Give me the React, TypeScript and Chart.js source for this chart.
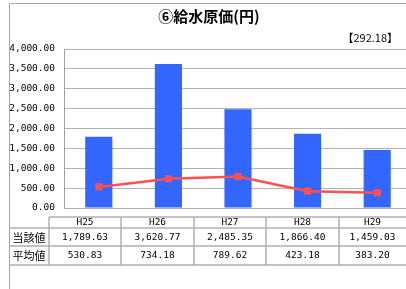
import React, { useEffect, useRef } from "react";
import { Chart, registerables } from "chart.js";

Chart.register(...registerables);

const categories = ["H25", "H26", "H27", "H28", "H29"];
const currentValues = [1789.63, 3620.77, 2485.35, 1866.4, 1459.03];
const averageValues = [530.83, 734.18, 789.62, 423.18, 383.2];
const rowLabels = ["当該値", "平均値"];
const titleText = "⑥給水原価(円)";
const noteText = "【292.18】";

const fmt = (v: number) =>
  v.toLocaleString("en-US", { minimumFractionDigits: 2, maximumFractionDigits: 2 });

const MONO = "'DejaVu Sans Mono', 'Liberation Mono', monospace";
const CJK = "'Noto Sans CJK JP', sans-serif";

const overlayPlugin = {
  id: "overlay",
  afterDraw(chart: any) {
    const ctx = chart.ctx as CanvasRenderingContext2D;
    ctx.save();
    // frame
    ctx.strokeStyle = "#a6a6a6";
    ctx.lineWidth = 1;
    ctx.beginPath();
    ctx.moveTo(9.5, 289);
    ctx.lineTo(9.5, 3.5);
    ctx.lineTo(420, 3.5);
    ctx.stroke();

    // title
    ctx.fillStyle = "#000";
    ctx.font = `bold 15px ${CJK}`;
    ctx.textAlign = "center";
    ctx.textBaseline = "middle";
    ctx.fillText(titleText, 209, 16);

    ctx.font = `11px ${CJK}`;
    ctx.textAlign = "right";
    ctx.fillText(noteText, 398, 38);

    // table
    const colX = [49, 121, 194, 266, 339, 406];
    const rowY = [217, 228, 246, 265];
    ctx.strokeStyle = "#b0b0b0";
    ctx.lineWidth = 1.5;
    ctx.beginPath();
    ctx.moveTo(colX[0], rowY[0]);
    ctx.lineTo(410, rowY[0]);
    for (let r = 1; r < rowY.length; r++) {
      ctx.moveTo(9, rowY[r]);
      ctx.lineTo(410, rowY[r]);
    }
    for (let c = 0; c < colX.length - 1; c++) {
      ctx.moveTo(colX[c], rowY[0]);
      ctx.lineTo(colX[c], rowY[3]);
    }
    ctx.stroke();

    ctx.fillStyle = "#000";
    ctx.textAlign = "center";
    ctx.textBaseline = "middle";
    ctx.font = `9.5px ${MONO}`;
    categories.forEach((c, i) => {
      const cx = (colX[i] + colX[i + 1]) / 2;
      ctx.fillText(c, cx, 222.5);
    });
    const rows = [currentValues, averageValues];
    rows.forEach((vals, r) => {
      const cy = r === 0 ? 237.5 : 256;
      ctx.font = `11px ${CJK}`;
      ctx.fillText(rowLabels[r], 29, cy);
      ctx.font = `9.5px ${MONO}`;
      vals.forEach((v, i) => {
        const cx = (colX[i] + colX[i + 1]) / 2;
        ctx.fillText(fmt(v), cx, cy);
      });
    });
    ctx.restore();
  },
};

export default function App() {
  const ref = useRef<HTMLCanvasElement>(null);
  useEffect(() => {
    document.body.style.margin = "0";
    const chart = new Chart(ref.current!, {
      type: "bar",
      data: {
        labels: categories,
        datasets: [
          {
            type: "line",
            label: "平均値",
            data: averageValues,
            borderColor: "#ff4f4f",
            backgroundColor: "#ff4f4f",
            borderWidth: 2.5,
            pointStyle: "rect",
            pointRadius: 5,
            pointBorderWidth: 0,
            pointBackgroundColor: "#ff4f4f",
            order: 0,
          } as any,
          {
            type: "bar",
            label: "当該値",
            data: currentValues,
            backgroundColor: "#3366ff",
            borderWidth: 0,
            categoryPercentage: 1,
            barPercentage: 0.39,
            order: 1,
          },
        ],
      },
      options: {
        responsive: false,
        animation: false,
        layout: { padding: { top: 49, bottom: 81, left: 0, right: 8 } },
        plugins: { legend: { display: false }, tooltip: { enabled: false }, title: { display: false } },
        scales: {
          x: { display: false },
          y: {
            min: 0,
            max: 4000,
            afterFit: (s: any) => {
              s.width = 64;
            },
            ticks: {
              stepSize: 500,
              padding: 9,
              color: "#000",
              font: { family: MONO, size: 9.5 },
              callback: (v: any) => fmt(Number(v)),
            },
            grid: { color: "#b3b3b3", drawTicks: false, lineWidth: 1 },
            border: { color: "#a0a0a0" },
          },
        },
      },
      plugins: [overlayPlugin],
    });
    return () => chart.destroy();
  }, []);
  return (
    <div style={{ position: "fixed", left: 0, top: 0, width: 406, height: 289, overflow: "hidden", background: "#fff" }}>
      <canvas ref={ref} width={420} height={289} style={{ display: "block" }} />
    </div>
  );
}
